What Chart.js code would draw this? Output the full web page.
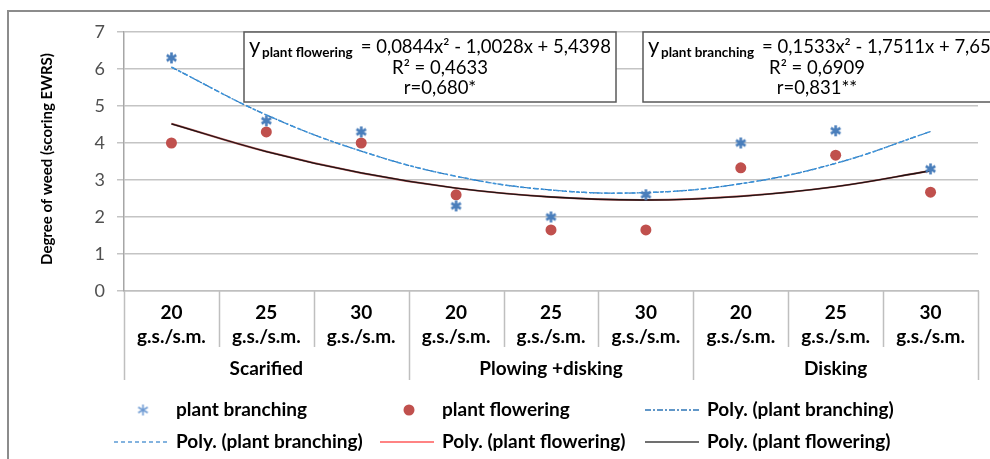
<!DOCTYPE html>
<html>
<head>
<meta charset="utf-8">
<script src="https://cdn.jsdelivr.net/npm/chart.js@4.4.1/dist/chart.umd.min.js"></script>
<style>
  html, body { margin: 0; padding: 0; background: #fff; }
  #wrap { position: relative; width: 990px; height: 459px; }
</style>
</head>
<body>
<div id="wrap"><canvas id="weedChart"></canvas></div>
<script>
// ===============================================
// 1. Data
// ===============================================
const categories = [
    ['20', 'g.s./s.m.'], ['25', 'g.s./s.m.'], ['30', 'g.s./s.m.'],
    ['20', 'g.s./s.m.'], ['25', 'g.s./s.m.'], ['30', 'g.s./s.m.'],
    ['20', 'g.s./s.m.'], ['25', 'g.s./s.m.'], ['30', 'g.s./s.m.']
];
const groups = ['Scarified', 'Plowing +disking', 'Disking'];
const dosesPerGroup = 3;

const plantBranching = [6.3, 4.6, 4.3, 2.3, 2.0, 2.6, 4.0, 4.33, 3.3];
const plantFlowering = [4.0, 4.3, 4.0, 2.6, 1.65, 1.65, 3.33, 3.67, 2.67];

// trend curves at each category
const polyBranching = [6.05, 4.76, 3.78, 3.10, 2.73, 2.66, 2.90, 3.45, 4.31];
const polyFlowering = [4.52, 3.77, 3.19, 2.78, 2.54, 2.46, 2.56, 2.82, 3.25];

const yTitle = 'Degree of weed (scoring EWRS)';
const eqNames = ['plant flowering', 'plant branching'];
const eqFormulas = ['= 0,0844x\u00B2 - 1,0028x + 5,4398', '= 0,1533x\u00B2 - 1,7511x + 7,65'];
const eqR2 = ['R\u00B2 = 0,4633', 'R\u00B2 = 0,6909'];
const eqR = ['r=0,680*', 'r=0,831**'];

const FONT = 'Lato, "Liberation Sans", sans-serif';

// ===============================================
// 2. Marker + plugins
// ===============================================
function makeAsterisk(color, size, lw) {
    const c = document.createElement('canvas');
    c.width = size; c.height = size;
    const g = c.getContext('2d');
    g.strokeStyle = color;
    g.lineWidth = lw;
    const m = size / 2, r = size / 2 - 1;
    g.beginPath();
    g.moveTo(m, m - r); g.lineTo(m, m + r);
    g.moveTo(m - r * 0.87, m - r * 0.5); g.lineTo(m + r * 0.87, m + r * 0.5);
    g.moveTo(m - r * 0.87, m + r * 0.5); g.lineTo(m + r * 0.87, m - r * 0.5);
    g.stroke();
    return c;
}
const asteriskMark = makeAsterisk('#4a7ebb', 13, 2.6);

// y axis title
const axisTitle = {
    id: 'axisTitle',
    afterDraw(chart) {
        const { ctx, chartArea } = chart;
        ctx.save();
        ctx.translate(47, chartArea.top + 127);
        ctx.rotate(-Math.PI / 2);
        ctx.fillStyle = '#000';
        ctx.font = 'bold 15px ' + FONT;
        ctx.textAlign = 'center';
        ctx.textBaseline = 'middle';
        ctx.fillText(yTitle, 0, 0);
        ctx.restore();
    }
};

// table-like category axis below the plot
const axisTable = {
    id: 'axisTable',
    afterDraw(chart) {
        const { ctx, chartArea, scales: { x } } = chart;
        const top = chartArea.bottom;
        ctx.save();
        ctx.strokeStyle = '#bfbfbf';
        ctx.lineWidth = 1.5;
        for (let i = 0; i <= categories.length; i++) {
            const px = Math.round(x.getPixelForValue(i - 0.5)) + 0.5;
            const deep = i % dosesPerGroup === 0;
            ctx.beginPath();
            ctx.moveTo(px, top);
            ctx.lineTo(px, top + (deep ? 89 : 56));
            ctx.stroke();
        }
        ctx.fillStyle = '#000';
        ctx.font = 'bold 19px ' + FONT;
        ctx.textAlign = 'center';
        ctx.textBaseline = 'middle';
        groups.forEach((g, k) => {
            const mid = x.getPixelForValue(k * dosesPerGroup + (dosesPerGroup - 1) / 2);
            ctx.fillText(g, mid, top + 78);
        });
        ctx.restore();
    }
};

// the two regression text boxes
const equationBoxes = {
    id: 'equationBoxes',
    afterDraw(chart) {
        const { ctx, chartArea } = chart;
        const boxes = [
            { left: chartArea.left + 120, right: chartArea.left + 492, mid: chartArea.left + 316 },
            { left: chartArea.left + 519, right: chartArea.left + 900, mid: chartArea.left + 693 }
        ];
        const top = chartArea.top;
        boxes.forEach((b, i) => {
            ctx.save();
            ctx.fillStyle = '#fff';
            ctx.fillRect(b.left, top, b.right - b.left, 70);
            ctx.strokeStyle = '#5a5a5a';
            ctx.lineWidth = 1.5;
            ctx.strokeRect(b.left, top, b.right - b.left, 70);

            ctx.fillStyle = '#000';
            ctx.textBaseline = 'alphabetic';
            ctx.textAlign = 'left';
            ctx.font = '22px ' + FONT;
            ctx.fillText('y', b.left + 5, top + 21);
            ctx.font = 'bold 13.5px ' + FONT;
            ctx.fillText(eqNames[i], b.left + 18, top + 25);
            const subW = ctx.measureText(eqNames[i]).width;
            ctx.font = '18.5px ' + FONT;
            ctx.fillText(eqFormulas[i], b.left + 18 + subW + 8, top + 21);

            ctx.textAlign = 'center';
            ctx.fillText(eqR2[i], b.mid, top + 42);
            ctx.fillText(eqR[i], b.mid, top + 62);
            ctx.restore();
        });
    }
};

// legend laid out in a 3 x 2 grid
const legendOrder = [0, 1, 5, 3, 4, 2];
const gridLegend = {
    id: 'gridLegend',
    afterDraw(chart) {
        const { ctx, chartArea } = chart;
        const cols = [chartArea.left + 52, chartArea.left + 318, chartArea.left + 583];
        const rows = [chartArea.bottom + 119, chartArea.bottom + 151];
        ctx.save();
        legendOrder.forEach((dsIndex, k) => {
            const ds = chart.data.datasets[dsIndex];
            const tx = cols[k % 3];
            const ty = rows[Math.floor(k / 3)];
            if (ds.showLine === false) {
                const cx = tx - 33;
                if (ds.pointStyle instanceof HTMLCanvasElement) {
                    const mark = makeAsterisk('#6f9bd3', 13, 1.6);
                    ctx.drawImage(mark, cx - mark.width / 2, ty - mark.height / 2);
                } else {
                    ctx.fillStyle = ds.pointBackgroundColor;
                    ctx.beginPath();
                    ctx.arc(cx, ty, ds.pointRadius, 0, Math.PI * 2);
                    ctx.fill();
                }
            } else {
                ctx.strokeStyle = ds.legendColor || ds.borderColor;
                ctx.lineWidth = 1.5;
                ctx.setLineDash(ds.borderDash || []);
                ctx.beginPath();
                ctx.moveTo(tx - 62, ty);
                ctx.lineTo(tx - 8, ty);
                ctx.stroke();
                ctx.setLineDash([]);
            }
            ctx.fillStyle = '#000';
            ctx.font = 'bold 19px ' + FONT;
            ctx.textAlign = 'left';
            ctx.textBaseline = 'middle';
            ctx.fillText(ds.label, tx, ty);
        });
        ctx.restore();
    }
};

// grey outer frame
const outerFrame = {
    id: 'outerFrame',
    afterDraw(chart) {
        const { ctx } = chart;
        ctx.save();
        ctx.strokeStyle = '#8c8c8c';
        ctx.lineWidth = 2;
        ctx.strokeRect(8, 11, 1000, 470);
        ctx.restore();
    }
};

// ===============================================
// 3. Chart
// ===============================================
const ctx = document.getElementById('weedChart').getContext('2d');

new Chart(ctx, {
    type: 'line',
    data: {
        labels: categories,
        datasets: [
            {
                label: 'plant branching',
                data: plantBranching,
                showLine: false,
                pointStyle: asteriskMark,
                pointRadius: 6
            },
            {
                label: 'plant flowering',
                data: plantFlowering,
                showLine: false,
                pointStyle: 'circle',
                pointRadius: 5.5,
                pointBackgroundColor: '#c0504d',
                pointBorderColor: '#c0504d',
                pointBorderWidth: 0
            },
            {
                label: 'Poly. (plant flowering)',
                data: polyFlowering,
                borderColor: '#1c1414',
                legendColor: '#404040',
                borderWidth: 1.3,
                tension: 0.4,
                pointRadius: 0
            },
            {
                label: 'Poly. (plant branching)',
                data: polyBranching,
                borderColor: '#3d95dc',
                legendColor: '#5b9bd5',
                borderWidth: 1.5,
                borderDash: [4, 3],
                tension: 0.4,
                pointRadius: 0
            },
            {
                label: 'Poly. (plant flowering)',
                data: polyFlowering,
                borderColor: '#b45454',
                legendColor: '#ff5a5a',
                borderWidth: 1.9,
                tension: 0.4,
                pointRadius: 0
            },
            {
                label: 'Poly. (plant branching)',
                data: polyBranching,
                borderColor: '#2e75b6',
                borderWidth: 1.2,
                borderDash: [6, 2, 2, 2],
                tension: 0.4,
                pointRadius: 0
            }
        ]
    },
    options: {
        responsive: true,
        maintainAspectRatio: false,
        animation: false,
        layout: {
            padding: { left: 0, right: 12, top: 32, bottom: 79 }
        },
        plugins: {
            legend: { display: false },
            tooltip: { enabled: false }
        },
        scales: {
            x: {
                offset: true,
                grid: { display: false, drawTicks: false },
                border: { display: true, color: '#bfbfbf', width: 1.5 },
                ticks: {
                    color: '#000',
                    autoSkip: false,
                    maxRotation: 0,
                    padding: 10,
                    font: { family: FONT, size: 19, weight: 'bold', lineHeight: 1.25 }
                },
                afterFit: function(scale) { scale.height = 89; }
            },
            y: {
                min: 0,
                max: 7,
                ticks: {
                    stepSize: 1,
                    color: '#505050',
                    padding: 12,
                    font: { family: FONT, size: 18 }
                },
                grid: { color: '#c4c4c4', lineWidth: 1.5, tickLength: 7 },
                border: { display: true, color: '#a6a6a6', width: 1.5 },
                title: { display: false },
                afterFit: function(scale) { scale.width = 124; }
            }
        }
    },
    plugins: [axisTitle, axisTable, equationBoxes, gridLegend, outerFrame]
});
</script>
</body>
</html>
